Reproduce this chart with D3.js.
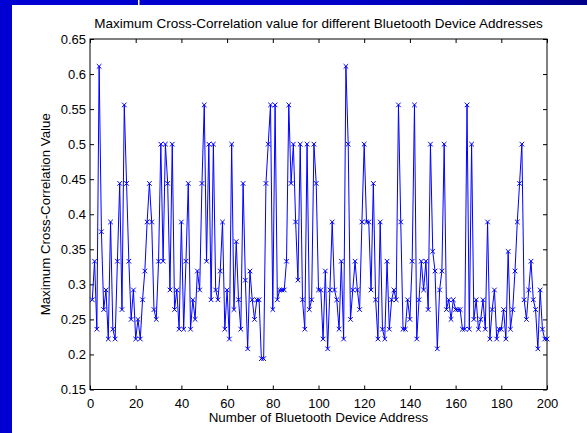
<!DOCTYPE html>
<html><head><meta charset="utf-8">
<script src="https://cdn.jsdelivr.net/npm/d3@7/dist/d3.min.js"></script>
<style>html,body{margin:0;padding:0;background:#fff;}svg{display:block;}</style>
</head><body>
<svg id="chart" width="587" height="433"></svg>
<script>
const titleText = "Maximum Cross-Correlation value for different Bluetooth Device Addresses";
const xLabelText = "Number of Bluetooth Device Address";
const yLabelText = "Maximum Cross-Correlation Value";
const xTicks = [0, 20, 40, 60, 80, 100, 120, 140, 160, 180, 200];
const yTicks = [0.15, 0.2, 0.25, 0.3, 0.35, 0.4, 0.45, 0.5, 0.55, 0.6, 0.65];
const yTickLabels = ["0.15", "0.2", "0.25", "0.3", "0.35", "0.4", "0.45", "0.5", "0.55", "0.6", "0.65"];
const maxCorr = [
  0.278, 0.333, 0.236, 0.611, 0.375, 0.264, 0.292, 0.222, 0.389, 0.236,
  0.222, 0.333, 0.444, 0.264, 0.556, 0.444, 0.333, 0.250, 0.292, 0.222,
  0.250, 0.222, 0.278, 0.319, 0.389, 0.444, 0.389, 0.264, 0.250, 0.333,
  0.500, 0.333, 0.500, 0.444, 0.292, 0.500, 0.264, 0.292, 0.236, 0.389,
  0.236, 0.333, 0.444, 0.236, 0.278, 0.250, 0.319, 0.292, 0.444, 0.556,
  0.333, 0.500, 0.278, 0.500, 0.292, 0.278, 0.319, 0.389, 0.236, 0.292,
  0.222, 0.500, 0.264, 0.361, 0.278, 0.236, 0.444, 0.306, 0.208, 0.319,
  0.278, 0.250, 0.278, 0.278, 0.194, 0.194, 0.444, 0.500, 0.556, 0.264,
  0.556, 0.278, 0.292, 0.292, 0.292, 0.333, 0.556, 0.444, 0.500, 0.389,
  0.306, 0.500, 0.278, 0.236, 0.500, 0.264, 0.278, 0.500, 0.444, 0.292,
  0.292, 0.222, 0.319, 0.208, 0.292, 0.389, 0.292, 0.278, 0.236, 0.333,
  0.222, 0.611, 0.500, 0.250, 0.292, 0.333, 0.292, 0.264, 0.389, 0.500,
  0.389, 0.389, 0.292, 0.444, 0.278, 0.222, 0.389, 0.236, 0.222, 0.333,
  0.236, 0.278, 0.292, 0.278, 0.556, 0.389, 0.236, 0.236, 0.278, 0.250,
  0.333, 0.556, 0.222, 0.278, 0.333, 0.292, 0.333, 0.264, 0.500, 0.347,
  0.319, 0.208, 0.292, 0.319, 0.500, 0.264, 0.278, 0.250, 0.278, 0.264,
  0.264, 0.264, 0.236, 0.236, 0.556, 0.236, 0.500, 0.250, 0.278, 0.236,
  0.250, 0.278, 0.236, 0.389, 0.222, 0.264, 0.292, 0.222, 0.236, 0.236,
  0.264, 0.222, 0.347, 0.236, 0.264, 0.319, 0.389, 0.444, 0.500, 0.278,
  0.250, 0.292, 0.333, 0.278, 0.264, 0.208, 0.292, 0.236, 0.222, 0.222
];
const addressNumber = maxCorr.map((v, i) => i + 1);

const W = 587, H = 433;
const plot = {left: 90, right: 547, top: 39, bottom: 389.5};
const font = "'Liberation Sans', Arial, Helvetica, sans-serif";

const svg = d3.select("#chart");

// blue frame strips (presentation slide background)
const defs = svg.append("defs");
const grad = defs.append("linearGradient").attr("id", "topg").attr("x1", "0").attr("x2", "1").attr("y1", "0").attr("y2", "0");
grad.append("stop").attr("offset", "0").attr("stop-color", "#0000d2");
grad.append("stop").attr("offset", "0.6").attr("stop-color", "#0000c8");
grad.append("stop").attr("offset", "1").attr("stop-color", "#00008a");
svg.append("rect").attr("x", 0).attr("y", 0).attr("width", W).attr("height", 5).attr("fill", "url(#topg)");
svg.append("rect").attr("x", 0).attr("y", 0).attr("width", 12).attr("height", H).attr("fill", "#0000d2");
svg.append("rect").attr("x", 138).attr("y", 0).attr("width", 1.5).attr("height", 5).attr("fill", "#ffffff");

const x = d3.scaleLinear().domain([0, 200]).range([plot.left, plot.right]);
const y = d3.scaleLinear().domain([0.15, 0.65]).range([plot.bottom, plot.top]);

// axes with inward ticks
const tickLen = 4;
const gx = svg.append("g").attr("transform", `translate(0,${plot.bottom})`)
  .call(d3.axisBottom(x).tickValues(xTicks).tickSizeInner(-tickLen).tickSizeOuter(0).tickPadding(9).tickFormat(d3.format("d")));
const gxTop = svg.append("g").attr("transform", `translate(0,${plot.top})`)
  .call(d3.axisTop(x).tickValues(xTicks).tickSizeInner(-tickLen).tickSizeOuter(0).tickFormat(""));
const gy = svg.append("g").attr("transform", `translate(${plot.left},0)`)
  .call(d3.axisLeft(y).tickValues(yTicks).tickSizeInner(-tickLen).tickSizeOuter(0).tickPadding(4).tickFormat((d, i) => yTickLabels[i]));
const gyR = svg.append("g").attr("transform", `translate(${plot.right},0)`)
  .call(d3.axisRight(y).tickValues(yTicks).tickSizeInner(-tickLen).tickSizeOuter(0).tickFormat(""));

[gx, gxTop, gy, gyR].forEach(g => {
  g.select(".domain").remove();
  g.selectAll("line").attr("stroke", "#000").attr("stroke-width", 1);
  g.selectAll("text").attr("font-family", font).attr("font-size", 13).attr("fill", "#000");
});

// box
svg.append("rect").attr("x", plot.left).attr("y", plot.top)
  .attr("width", plot.right - plot.left).attr("height", plot.bottom - plot.top)
  .attr("fill", "none").attr("stroke", "#000").attr("stroke-width", 1);

// line
const line = d3.line().x((d, i) => x(addressNumber[i])).y(d => y(d));
svg.append("path").datum(maxCorr).attr("d", line)
  .attr("fill", "none").attr("stroke", "#0000ff").attr("stroke-width", 1);

// x markers
const m = 2.3;
svg.append("g").selectAll("path").data(maxCorr).join("path")
  .attr("transform", (d, i) => `translate(${x(addressNumber[i])},${y(d)})`)
  .attr("d", `M${-m},${-m}L${m},${m}M${-m},${m}L${m},${-m}`)
  .attr("stroke", "#0000ff").attr("stroke-width", 1).attr("fill", "none");

// title and labels
svg.append("text").attr("x", (plot.left + plot.right) / 2).attr("y", 28)
  .attr("text-anchor", "middle").attr("font-family", font).attr("font-size", 13.5).attr("fill", "#000")
  .text(titleText);
svg.append("text").attr("x", (plot.left + plot.right) / 2).attr("y", 422)
  .attr("text-anchor", "middle").attr("font-family", font).attr("font-size", 13.4).attr("fill", "#000")
  .text(xLabelText);
svg.append("text").attr("transform", `translate(50,${(plot.top + plot.bottom) / 2}) rotate(-90)`)
  .attr("text-anchor", "middle").attr("font-family", font).attr("font-size", 13.3).attr("fill", "#000")
  .text(yLabelText);
</script>
</body></html>
